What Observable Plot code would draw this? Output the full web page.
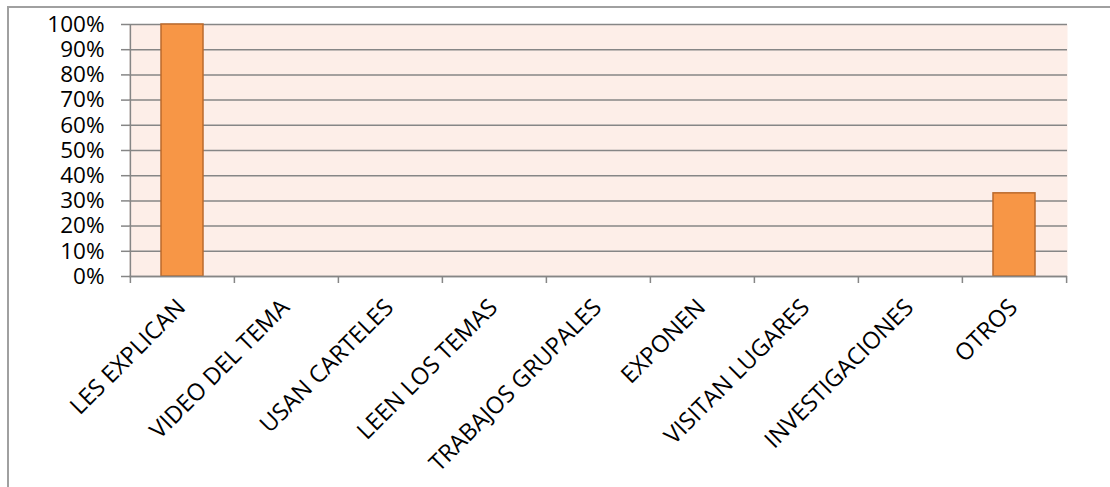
<!DOCTYPE html>
<html>
<head>
<meta charset="utf-8">
<script src="https://cdn.jsdelivr.net/npm/d3@7"></script>
<script src="https://cdn.jsdelivr.net/npm/@observablehq/plot@0.6"></script>
<style>
  html, body { margin: 0; padding: 0; background: #fff; }
  #wrap { position: relative; width: 1110px; height: 487px; overflow: hidden; }
  #frame { position: absolute; left: 7px; top: 6px; width: 1200px; height: 600px;
           border-top: 2px solid #a0a0a0; border-left: 2px solid #a0a0a0; box-sizing: border-box; }
  #chart { position: absolute; left: 0; top: 0; }
</style>
</head>
<body>
<div id="wrap"><div id="frame"></div><div id="chart"></div></div>
<script>
const categories = ["LES EXPLICAN", "VIDEO DEL TEMA", "USAN CARTELES", "LEEN LOS TEMAS",
  "TRABAJOS GRUPALES", "EXPONEN", "VISITAN LUGARES", "INVESTIGACIONES", "OTROS"];
const values = [1.00, 0, 0, 0, 0, 0, 0, 0, 0.33];
const yTicks = [0, 0.1, 0.2, 0.3, 0.4, 0.5, 0.6, 0.7, 0.8, 0.9, 1.0];

const data = categories.map((c, i) => ({category: c, value: values[i]}));

const W = 1110, H = 487;
const mL = 129, mR = 43, mT = 24, mB = 211;
const step = (W - mL - mR) / categories.length;
const font = "'Open Sans', sans-serif";
const grey = "#868686";

const chart = Plot.plot({
  width: W,
  height: H,
  marginLeft: mL,
  marginRight: mR,
  marginTop: mT,
  marginBottom: mB,
  style: {fontFamily: font, background: "transparent", color: "#000"},
  x: {type: "band", domain: categories, paddingInner: 0.6, paddingOuter: 0.3},
  y: {domain: [0, 1]},
  marks: [
    Plot.frame({fill: "#FDEEE8", stroke: null}),
    Plot.gridY(yTicks, {stroke: grey, strokeOpacity: 1, strokeWidth: 1.5}),
    Plot.axisY({ticks: yTicks, tickFormat: d3.format(".0%"), tickSize: 8, tickPadding: 17,
      fontSize: 22.5, stroke: grey, strokeWidth: 1.5, fill: "#000", label: null}),
    Plot.barY(data.filter(d => d.value > 0), {x: "category", y: "value",
      fill: "#F79646", stroke: "#BA6A2C", strokeWidth: 1.5}),
    Plot.ruleY([0], {stroke: grey, strokeWidth: 1.5}),
    // category boundary ticks on the x axis
    Plot.ruleX(categories, {x: d => d, dx: -step / 2, y1: 0, y2: 0, insetBottom: -7, stroke: grey, strokeWidth: 1.5}),
    Plot.ruleX(categories.slice(-1), {x: d => d, dx: step / 2, y1: 0, y2: 0, insetBottom: -7, stroke: grey, strokeWidth: 1.5}),
    // y axis line
    Plot.ruleX(categories.slice(0, 1), {x: d => d, dx: -step / 2, y1: 1, y2: 0, stroke: grey, strokeWidth: 1.5}),
    Plot.axisX({tickSize: 0, tickRotate: -45, tickPadding: 27, dx: -1, fontSize: 23.5, fill: "#000", label: null})
  ]
});
document.getElementById("chart").appendChild(chart);
</script>
</body>
</html>
